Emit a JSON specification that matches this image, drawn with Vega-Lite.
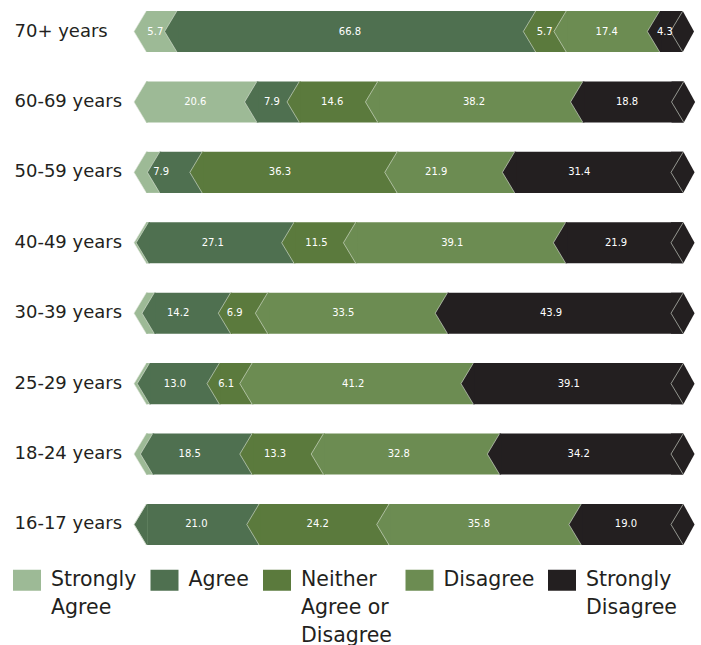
{
  "$schema": "https://vega.github.io/schema/vega-lite/v6.json",
  "width": 537,
  "height": 556,
  "autosize": "none",
  "padding": {"left": 134, "top": 0, "right": 30, "bottom": 89},
  "background": "white",
  "config": {
    "view": {"stroke": null},
    "style": {"guide-label": {"lineHeight": 28}}
  },
  "data": {
    "values": [
      {"age": "70+ years", "cat": "Strongly Agree", "k": 0, "value": 5.7},
      {"age": "70+ years", "cat": "Agree", "k": 1, "value": 66.8},
      {"age": "70+ years", "cat": "Neither Agree or Disagree", "k": 2, "value": 5.7},
      {"age": "70+ years", "cat": "Disagree", "k": 3, "value": 17.4},
      {"age": "70+ years", "cat": "Strongly Disagree", "k": 4, "value": 4.3},
      {"age": "60-69 years", "cat": "Strongly Agree", "k": 0, "value": 20.6},
      {"age": "60-69 years", "cat": "Agree", "k": 1, "value": 7.9},
      {"age": "60-69 years", "cat": "Neither Agree or Disagree", "k": 2, "value": 14.6},
      {"age": "60-69 years", "cat": "Disagree", "k": 3, "value": 38.2},
      {"age": "60-69 years", "cat": "Strongly Disagree", "k": 4, "value": 18.8},
      {"age": "50-59 years", "cat": "Strongly Agree", "k": 0, "value": 2.5},
      {"age": "50-59 years", "cat": "Agree", "k": 1, "value": 7.9},
      {"age": "50-59 years", "cat": "Neither Agree or Disagree", "k": 2, "value": 36.3},
      {"age": "50-59 years", "cat": "Disagree", "k": 3, "value": 21.9},
      {"age": "50-59 years", "cat": "Strongly Disagree", "k": 4, "value": 31.4},
      {"age": "40-49 years", "cat": "Strongly Agree", "k": 0, "value": 0.4},
      {"age": "40-49 years", "cat": "Agree", "k": 1, "value": 27.1},
      {"age": "40-49 years", "cat": "Neither Agree or Disagree", "k": 2, "value": 11.5},
      {"age": "40-49 years", "cat": "Disagree", "k": 3, "value": 39.1},
      {"age": "40-49 years", "cat": "Strongly Disagree", "k": 4, "value": 21.9},
      {"age": "30-39 years", "cat": "Strongly Agree", "k": 0, "value": 1.5},
      {"age": "30-39 years", "cat": "Agree", "k": 1, "value": 14.2},
      {"age": "30-39 years", "cat": "Neither Agree or Disagree", "k": 2, "value": 6.9},
      {"age": "30-39 years", "cat": "Disagree", "k": 3, "value": 33.5},
      {"age": "30-39 years", "cat": "Strongly Disagree", "k": 4, "value": 43.9},
      {"age": "25-29 years", "cat": "Strongly Agree", "k": 0, "value": 0.6},
      {"age": "25-29 years", "cat": "Agree", "k": 1, "value": 13.0},
      {"age": "25-29 years", "cat": "Neither Agree or Disagree", "k": 2, "value": 6.1},
      {"age": "25-29 years", "cat": "Disagree", "k": 3, "value": 41.2},
      {"age": "25-29 years", "cat": "Strongly Disagree", "k": 4, "value": 39.1},
      {"age": "18-24 years", "cat": "Strongly Agree", "k": 0, "value": 1.2},
      {"age": "18-24 years", "cat": "Agree", "k": 1, "value": 18.5},
      {"age": "18-24 years", "cat": "Neither Agree or Disagree", "k": 2, "value": 13.3},
      {"age": "18-24 years", "cat": "Disagree", "k": 3, "value": 32.8},
      {"age": "18-24 years", "cat": "Strongly Disagree", "k": 4, "value": 34.2},
      {"age": "16-17 years", "cat": "Strongly Agree", "k": 0, "value": 0},
      {"age": "16-17 years", "cat": "Agree", "k": 1, "value": 21.0},
      {"age": "16-17 years", "cat": "Neither Agree or Disagree", "k": 2, "value": 24.2},
      {"age": "16-17 years", "cat": "Disagree", "k": 3, "value": 35.8},
      {"age": "16-17 years", "cat": "Strongly Disagree", "k": 4, "value": 19.0}
    ]
  },
  "transform": [
    {"stack": "value", "groupby": ["age"], "sort": [{"field": "k", "order": "ascending"}], "as": ["x0", "x1"]}
  ],
  "encoding": {
    "y": {
      "field": "age",
      "type": "nominal",
      "sort": ["70+ years", "60-69 years", "50-59 years", "40-49 years", "30-39 years", "25-29 years", "18-24 years", "16-17 years"],
      "scale": {"paddingInner": 0.417, "paddingOuter": 0.156},
      "axis": {
        "title": null,
        "ticks": false,
        "domain": false,
        "labelAlign": "left",
        "labelPadding": 120,
        "labelFont": "DejaVu Sans",
        "labelFontSize": 18,
        "labelColor": "#231f20"
      }
    }
  },
  "layer": [
    {
      "mark": {"type": "bar", "xOffset": 12, "x2Offset": 12, "cornerRadius": 0},
      "encoding": {
        "x": {"field": "x0", "type": "quantitative", "scale": {"domain": [0, 100]}, "axis": null},
        "x2": {"field": "x1"},
        "color": {
          "field": "cat",
          "type": "nominal",
          "scale": {
            "domain": ["Strongly Agree", "Agree", "Neither Agree or Disagree", "Disagree", "Strongly Disagree"],
            "range": ["#9dba96", "#4f7050", "#5b7a3d", "#6c8c52", "#231f20"]
          },
          "legend": {
            "title": null,
            "orient": "none",
            "legendX": -121,
            "legendY": 556,
            "padding": 0,
            "direction": "horizontal",
            "columns": 5,
            "symbolType": "M-1,-0.036L1,-0.036L1,1.464L-1,1.464Z",
            "symbolSize": 784,
            "symbolStrokeWidth": 0,
            "labelFont": "DejaVu Sans",
            "labelFontSize": 20.5,
            "labelBaseline": "top",
            "labelColor": "#231f20",
            "labelLimit": 0,
            "labelOffset": 10,
            "columnPadding": 13.5,
            "labelExpr": "datum.label == 'Strongly Agree' ? ['Strongly', 'Agree', ' '] : datum.label == 'Neither Agree or Disagree' ? ['Neither', 'Agree or', 'Disagree'] : datum.label == 'Strongly Disagree' ? ['Strongly', 'Disagree', ' '] : [datum.label, ' ', ' ']"
          }
        }
      }
    },
    {
      "mark": {"type": "point", "filled": true, "opacity": 1, "shape": "M0.6,-1L0,0L0.6,1L0.67,1L0.67,-1Z", "size": 1681, "strokeWidth": 0},
      "encoding": {
        "x": {"field": "x0", "type": "quantitative"},
        "color": {"field": "cat", "type": "nominal"}
      }
    },
    {
      "transform": [{"filter": "datum.k == 4"}],
      "mark": {"type": "point", "filled": true, "opacity": 1, "shape": "M0,-1L0.6,-1L1.15,0L0.6,1L0,1Z", "size": 1681, "fill": "#231f20", "strokeWidth": 0},
      "encoding": {
        "x": {"field": "x1", "type": "quantitative"}
      }
    },
    {
      "mark": {"type": "point", "filled": false, "opacity": 1, "shape": "M0.6,-1L0,0L0.6,1", "size": 1681, "stroke": "#dfe6da", "strokeWidth": 0.6},
      "encoding": {
        "x": {"field": "x0", "type": "quantitative"}
      }
    },
    {
      "transform": [{"filter": "datum.k == 4"}],
      "mark": {"type": "point", "filled": false, "opacity": 1, "shape": "M0.6,-1L0,0L0.6,1", "size": 1681, "stroke": "#dfe6da", "strokeWidth": 0.6},
      "encoding": {
        "x": {"field": "x1", "type": "quantitative"}
      }
    },
    {
      "transform": [{"filter": "datum.value >= 3"}],
      "mark": {"type": "text", "color": "white", "font": "DejaVu Sans", "fontSize": 10, "dx": 6, "align": "center", "baseline": "middle"},
      "encoding": {
        "x": {"field": "value", "type": "quantitative", "stack": "zero", "bandPosition": 0.5},
        "order": {"field": "k", "type": "quantitative"},
        "text": {"field": "value", "type": "quantitative", "format": ".1f"}
      }
    }
  ]
}
